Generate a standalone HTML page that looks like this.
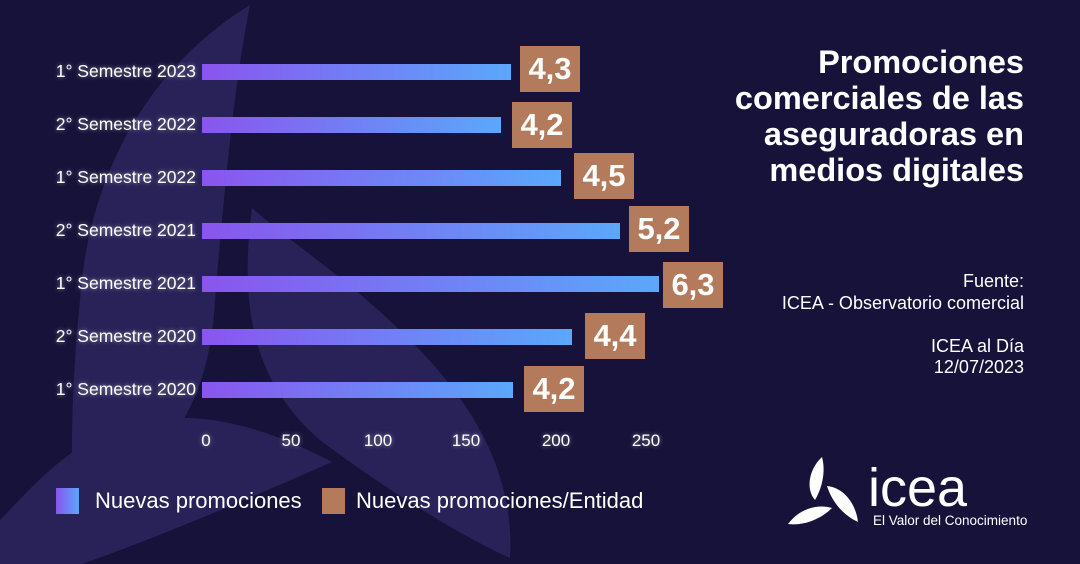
<!DOCTYPE html>
<html><head><meta charset="utf-8"><style>
body{margin:0;width:1080px;height:564px;overflow:hidden;background:#17123a;font-family:"Liberation Sans",sans-serif;}
.w{position:relative;width:1080px;height:564px;}
svg{position:absolute;left:0;top:0}
.t{position:absolute;color:#fff}
.lab{position:absolute;right:884px;font-size:17.5px;color:#fff;text-shadow:0 0 4px rgba(255,255,255,.5);}
.bar{position:absolute;left:202px;height:16px;background:linear-gradient(90deg,#8a55ee,#5aa8fb);}
.box{position:absolute;width:60px;height:46px;background:#b47a5c;color:#fff;font-weight:bold;font-size:31px;text-align:center;line-height:46px;}
.tick{position:absolute;top:431px;font-size:17px;color:#fff;transform:translateX(-50%);text-shadow:0 0 4px rgba(255,255,255,.5);}
</style></head><body><div class="w">
<svg width="1080" height="564">
<path d="M250,5 C160,60 90,160 80,300 C70,400 72,460 72,512 C170,470 210,400 215,300 C225,180 235,80 250,5Z" fill="#292258"/>
<path d="M252,208 C240,300 250,380 320,440 C400,500 470,540 510,558 C515,470 470,400 410,340 C350,280 300,250 252,208Z" fill="#292258"/>
<path d="M0,588 C80,570 200,520 332,462 C270,430 200,405 130,425 C70,440 30,490 0,520Z" fill="#292258"/>
</svg>
<div class="lab" style="top:61px">1° Semestre 2023</div>
<div class="lab" style="top:114px">2° Semestre 2022</div>
<div class="lab" style="top:167px">1° Semestre 2022</div>
<div class="lab" style="top:220px">2° Semestre 2021</div>
<div class="lab" style="top:273px">1° Semestre 2021</div>
<div class="lab" style="top:326px">2° Semestre 2020</div>
<div class="lab" style="top:379px">1° Semestre 2020</div>
<div class="bar" style="top:64px;width:309px"></div>
<div class="bar" style="top:117px;width:299px"></div>
<div class="bar" style="top:170px;width:359px"></div>
<div class="bar" style="top:223px;width:418px"></div>
<div class="bar" style="top:276px;width:457px"></div>
<div class="bar" style="top:329px;width:370px"></div>
<div class="bar" style="top:382px;width:311px"></div>
<div class="box" style="left:520px;top:46px">4,3</div>
<div class="box" style="left:512px;top:102px">4,2</div>
<div class="box" style="left:574px;top:153px">4,5</div>
<div class="box" style="left:629px;top:206px">5,2</div>
<div class="box" style="left:663px;top:262px">6,3</div>
<div class="box" style="left:585px;top:313px">4,4</div>
<div class="box" style="left:524px;top:366px">4,2</div>
<div class="tick" style="left:206px">0</div>
<div class="tick" style="left:291px">50</div>
<div class="tick" style="left:378px">100</div>
<div class="tick" style="left:466px">150</div>
<div class="tick" style="left:556px">200</div>
<div class="tick" style="left:646px">250</div>
<div style="position:absolute;left:56px;top:488px;width:23px;height:26px;background:linear-gradient(90deg,#8a55ee,#5aa8fb)"></div>
<div class="t" style="left:95px;top:488px;font-size:22px">Nuevas promociones</div>
<div style="position:absolute;left:322px;top:488px;width:23px;height:26px;background:#b47a5c"></div>
<div class="t" style="left:356px;top:488px;font-size:22px">Nuevas promociones/Entidad</div>
<div class="t" style="right:56px;top:44px;font-size:32.5px;font-weight:bold;text-align:right;line-height:36px">Promociones<br>comerciales de las<br>aseguradoras en<br>medios digitales</div>
<div class="t" style="right:56px;top:271px;font-size:18px;text-align:right;line-height:21.5px">Fuente:<br>ICEA - Observatorio comercial<br><br>ICEA al Día<br>12/07/2023</div>
<svg width="1080" height="564" style="pointer-events:none">
<g fill="#fff">
<path d="M822,457 C808,470 806,490 815,500 C822,488 826,472 822,457Z"/>
<path d="M827,486 C845,488 856,505 858,522 C843,515 832,502 827,486Z"/>
<path d="M788,524 C800,508 818,504 832,508 C820,520 802,526 788,524Z"/>
</g>
<text x="868" y="506" font-family="Liberation Sans" font-size="54" fill="#fff">icea</text>
<text x="873" y="525" font-family="Liberation Sans" font-size="13.5" fill="#fff">El Valor del Conocimiento</text>
</svg>
</div></body></html>
